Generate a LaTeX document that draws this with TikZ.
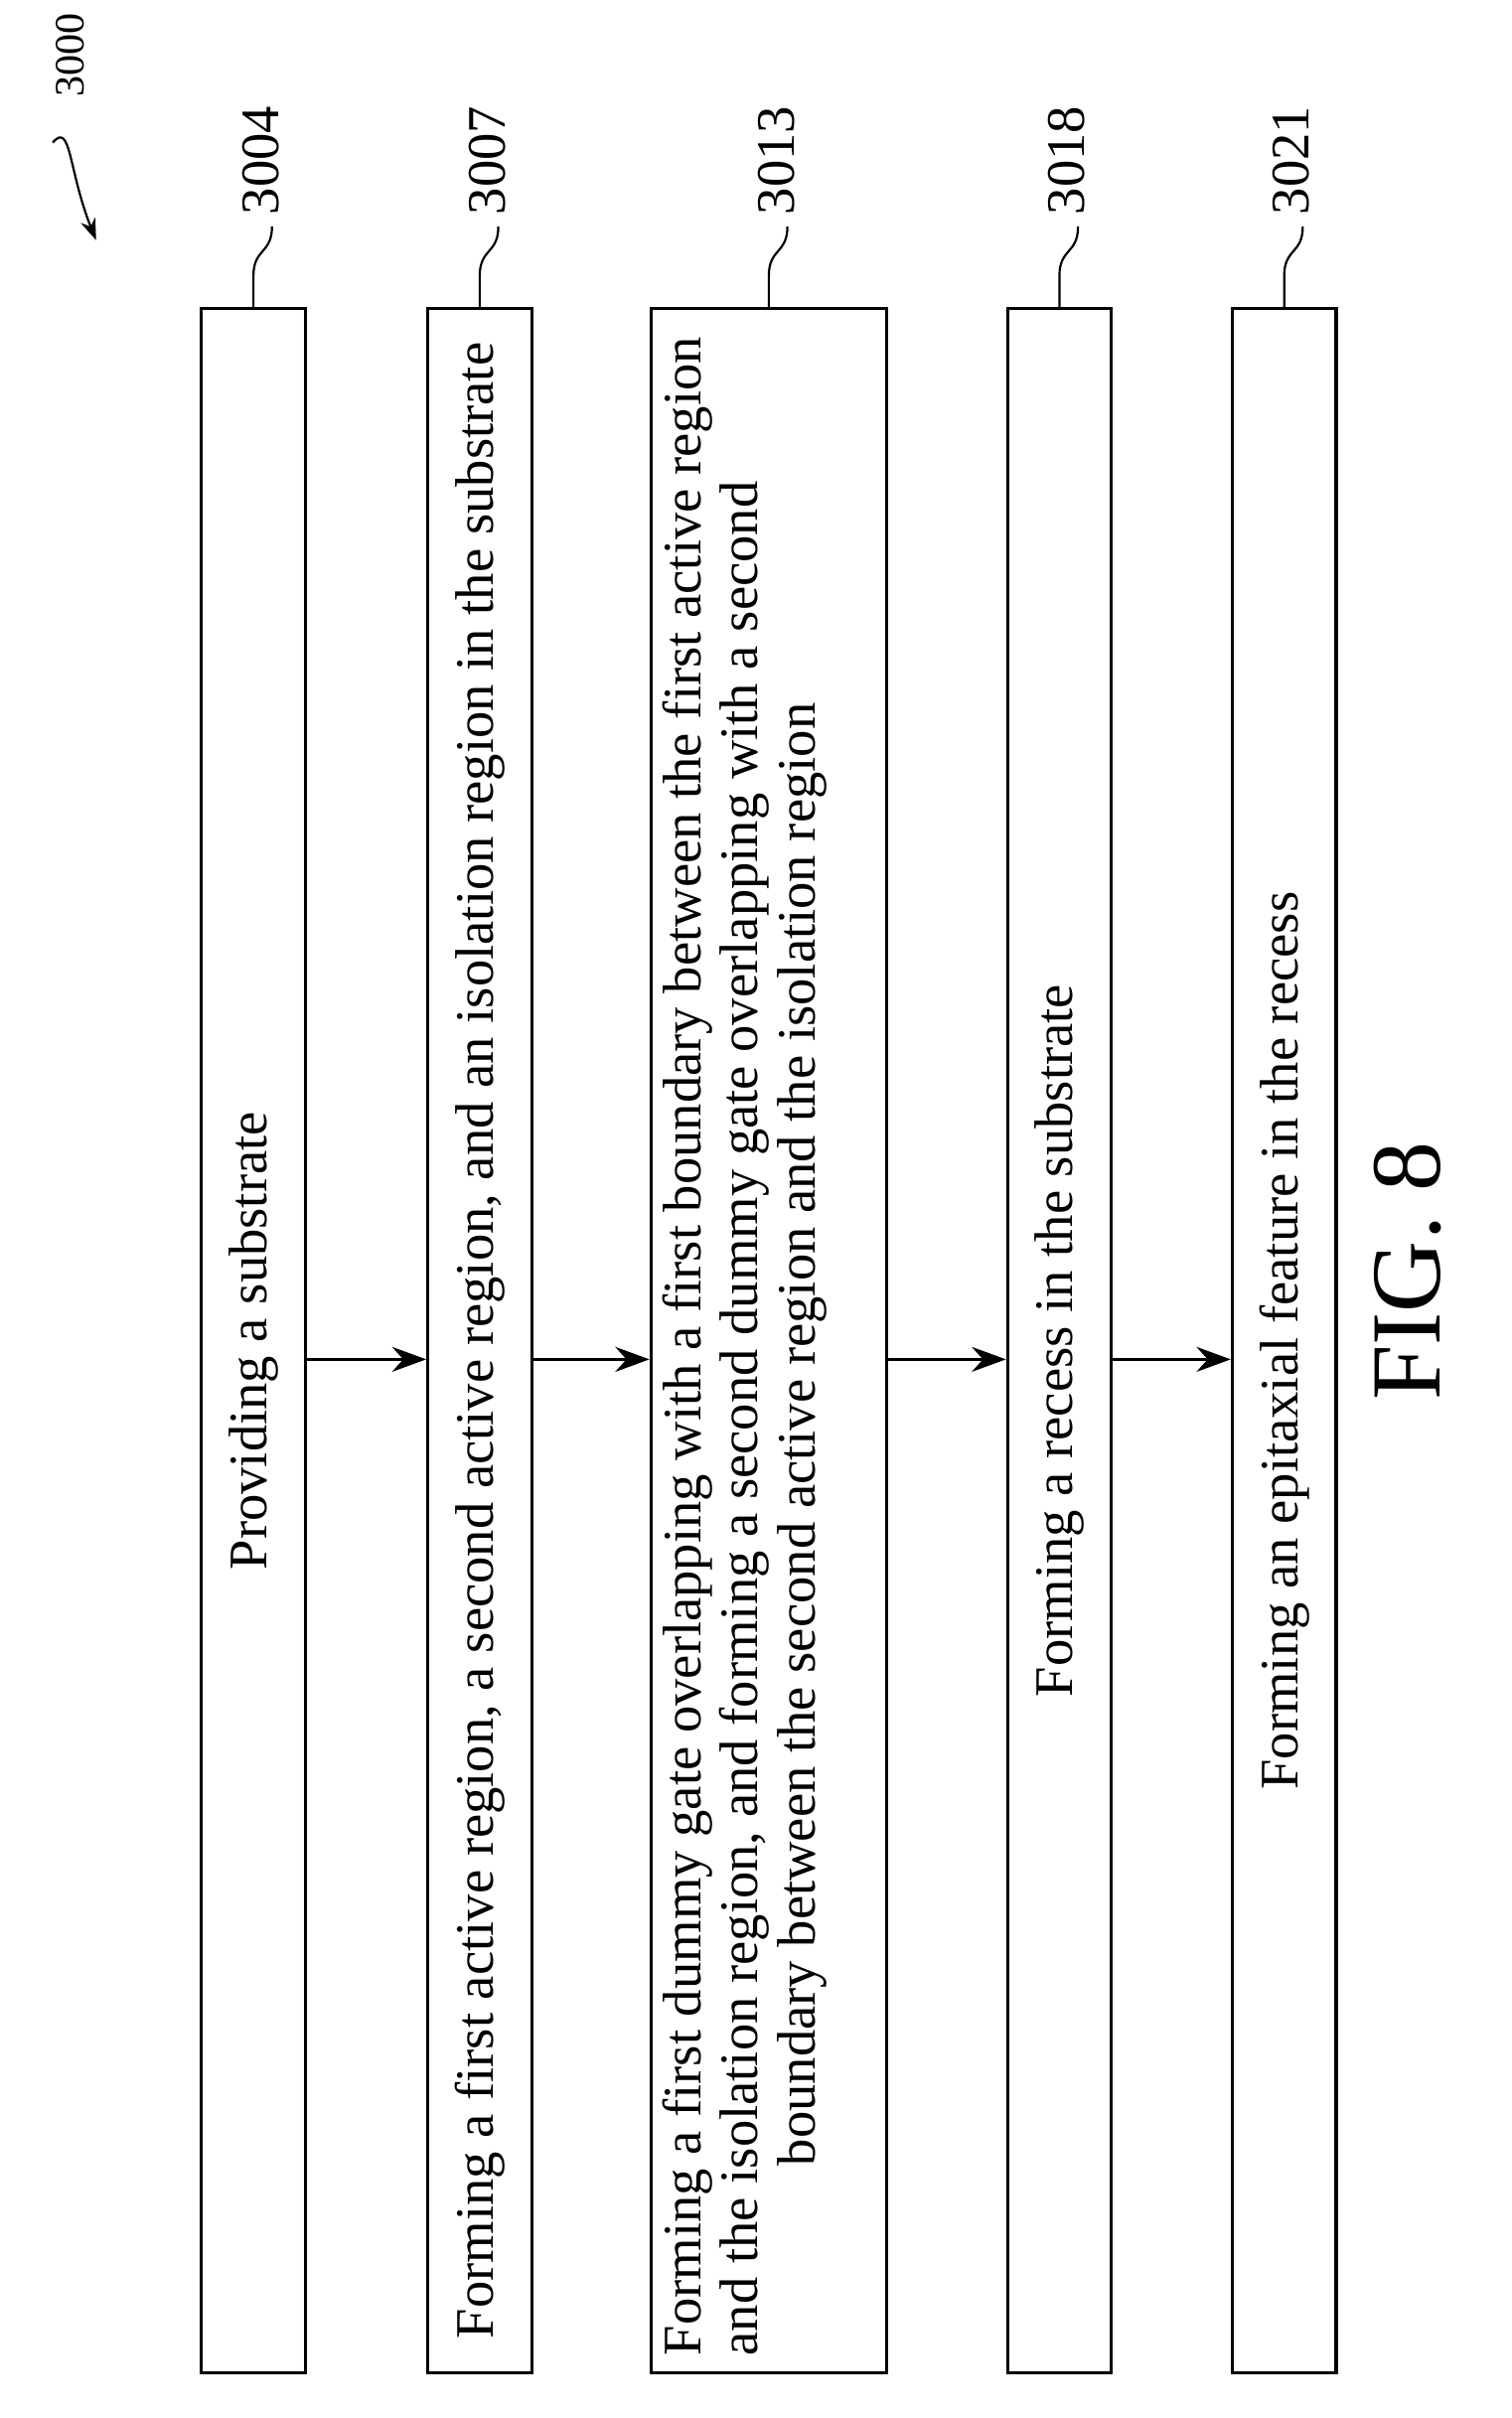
\documentclass[tikz,border=0pt]{standalone}
\usepackage{fontspec}
\setmainfont{Liberation Serif}
\usetikzlibrary{arrows.meta}
\begin{document}
\begin{tikzpicture}[x=1pt,y=-1pt,
  stepbox/.style={draw,line width=2pt,rectangle,minimum height=1332pt,anchor=north},
  txt/.style={rotate=90,font=\fontsize{35}{37}\selectfont,align=left},
  lbl/.style={rotate=90,font=\fontsize{35}{38}\selectfont},
  arr/.style={line width=2.2pt,-{Stealth[length=22pt,width=16pt]}},
  sq/.style={line width=1.4pt}]
\useasboundingbox (0,0) rectangle (975,1560);
\node[stepbox,minimum width=67pt] (b1) at (163.5,198) {};
\node[stepbox,minimum width=67pt] (b2) at (309.5,198) {};
\node[stepbox,minimum width=152pt] (b3) at (496,198) {};
\node[stepbox,minimum width=67pt] (b4) at (683.5,198) {};
\node[stepbox,minimum width=67pt] (b5) at (828.5,198) {};
\node[txt] (t1) at (b1.center) {Providing a substrate};
\node[txt] (t2) at (b2.center) {Forming a first active region, a second active region, and an isolation region in the substrate};
\node[txt,anchor=north west,inner sep=0pt] (t3) at ([xshift=8pt,yshift=12pt]b3.south west) {Forming a first dummy gate overlapping with a first boundary between the first active region\\ and the isolation region, and forming a second dummy gate overlapping with a second\\ \hspace*{3.5em}boundary between the second active region and the isolation region};
\node[txt] (t4) at (b4.center) {Forming a recess in the substrate};
\node[txt] (t5) at (b5.center) {Forming an epitaxial feature in the recess};
\foreach \a/\b in {b1/b2,b2/b3,b3/b4,b4/b5}
  \draw[arr] (\a.east |- 0,877) -- (\b.west |- 0,877);
\foreach \b/\n/\x in {b1/3004/163.5,b2/3007/309.5,b3/3013/496,b4/3018/683.5,b5/3021/828.5}{
  \coordinate (s\n) at (\x+12,146);
  \draw[sq] (\b.north) -- (\x,178) .. controls (\x,160) and (\x+12,164) .. (s\n);
  \node[lbl,anchor=south west] (l\n) at (\x+20,142) {\n};
}
\coordinate (a0) at (62,155);
\node[lbl,anchor=south west,font=\fontsize{27}{30}\selectfont] (l3000) at (58,66) {3000};
\draw[sq,-{Stealth[length=14pt,width=10pt]}] (34,92) .. controls (46,78) and (44,110) .. (a0);
\node[rotate=90,font=\fontsize{64}{66}\selectfont] (fig) at (908,820) {FIG. 8};
\end{tikzpicture}
\end{document}
